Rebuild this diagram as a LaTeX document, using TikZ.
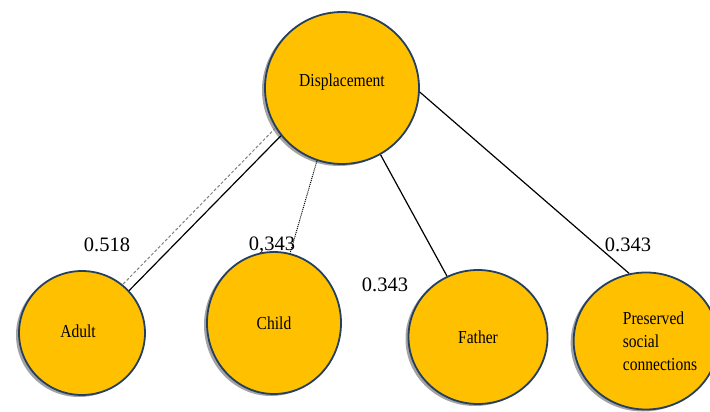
\documentclass[tikz,border=0pt]{standalone}
\usepackage{fontspec}
\setmainfont{Liberation Serif}
\newfontfamily\narrowserif[FakeStretch=0.85]{Liberation Serif}
\usetikzlibrary{shapes.geometric,shadows}
\definecolor{nodefill}{HTML}{FFC000}
\definecolor{nodeline}{HTML}{243F60}
\tikzset{
  factor/.style={ellipse, draw=nodeline, line width=1.8pt, fill=nodefill,
    inner sep=0pt, font=\narrowserif\fontsize{18.3}{23}\selectfont,
    drop shadow={shadow xshift=-3pt, shadow yshift=-2pt, fill=black!45, opacity=0.8}},
  weight/.style={font=\fontsize{20.5}{22}\selectfont, inner sep=0pt},
  link/.style={line width=1.2pt, black},
}
\begin{document}
\begin{tikzpicture}[x=1pt,y=-1pt]
  \useasboundingbox (0,0) rectangle (710,412);
  \begin{scope}
  \clip (0,0) rectangle (710,412);
  % factor nodes
  \node[factor, minimum width=154pt, minimum height=152pt] (disp) at (342,88)
    {\raisebox{15pt}{Displacement}};
  \node[factor, minimum width=126pt, minimum height=124pt] (adult) at (82,333)
    {\raisebox{3pt}{Adult\hspace*{8pt}}};
  \node[factor, minimum width=134pt, minimum height=142pt] (child) at (274,323) {Child};
  \node[factor, minimum width=139pt, minimum height=134pt] (father) at (478,337) {Father};
  \node[factor, minimum width=126pt, minimum height=137pt, align=left] (pres) at (646,341)
    {\hspace*{28pt}Preserved\\ \hspace*{28pt}social\\ \hspace*{28pt}connections};

  % connectors
  \draw[gray, line width=1pt, densely dashed] (disp.211) -- (adult.50);
  \draw[link] (disp.218) -- (adult.42);
  \draw[link, line width=1pt, densely dotted] (disp.251) -- (child.77);
  \draw[link] (disp.-60) -- (father.117);
  \draw[link] (disp.-3) -- (pres.104);
  \end{scope}

  % path coefficients
  \node[weight] (w1) at (107,245) {0.518};
  \node[weight] (w2) at (272,245) {0,343};
  \node[weight] (w3) at (385,285) {0.343};
  \node[weight] (w4) at (628,245) {0.343};
\end{tikzpicture}
\end{document}
